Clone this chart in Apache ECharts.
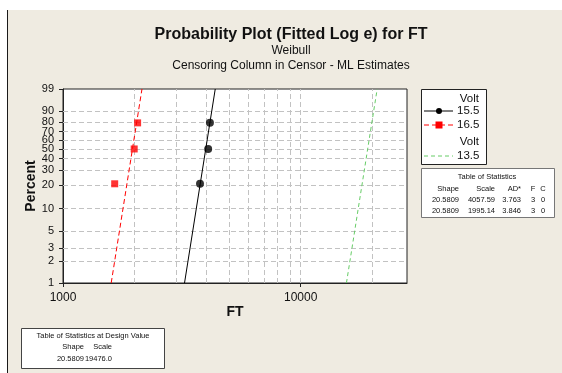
<!DOCTYPE html>
<html>
<head>
<meta charset="utf-8">
<script src="https://cdn.jsdelivr.net/npm/echarts@6/dist/echarts.min.js"></script>
<style>
html,body{margin:0;padding:0;background:#fff;}
#wrap{position:relative;width:562px;height:373px;overflow:hidden;background:#fff;}
#panel{position:absolute;left:8px;top:10px;width:554px;height:363px;background:#EFEBE1;}
#edge{position:absolute;left:7px;top:10px;width:1px;height:363px;background:#1a1a1a;}
#chart{position:absolute;left:0;top:0;width:562px;height:373px;}
</style>
</head>
<body>
<div id="wrap"><div id="panel"></div><div id="edge"></div><div id="chart"></div></div>
<script>
// ---- data ----
const voltLevels = ['15.5', '16.5', '13.5'];
const ft155 = [3770, 4080, 4150];
const pct155 = [20.6, 50.0, 79.4];
const ft165 = [1650, 1993, 2060];
const pct165 = [20.6, 50.0, 79.4];
const fitPct = [1, 99];
const fit155 = [3245, 4370];
const fit165 = [1595, 2149];
const fit135 = [15575, 20975];
const yTickPct = [1, 2, 3, 5, 10, 20, 30, 40, 50, 60, 70, 80, 90, 99];
const yGridPct = [2, 3, 5, 10, 20, 30, 40, 50, 60, 70, 80, 90];
const xTickVals = [1000, 10000];
const xGridVals = [2000, 3000, 4000, 5000, 6000, 7000, 8000, 9000, 10000, 20000];
const statsHeader = ['Shape', 'Scale', 'AD*', 'F', 'C'];
const statsRow155 = ['20.5809', '4057.59', '3.763', '3', '0'];
const statsRow165 = ['20.5809', '1995.14', '3.846', '3', '0'];
const designHeader = ['Shape', 'Scale'];
const designRow = ['20.5809', '19476.0'];

// Weibull probability scale transform
function wb(p) { return Math.log(-Math.log(1 - p / 100)); }
function inv(v) { return 100 * (1 - Math.exp(-Math.exp(v))); }

const FONT = 'Liberation Sans';
const chart = echarts.init(document.getElementById('chart'), null, {renderer: 'canvas'});

const gridLeft = 63, gridTop = 89, gridW = 344, gridH = 194;

function pts(xs, ps) { return xs.map((x, i) => [x, wb(ps[i])]); }

const gridLines = xGridVals.map(v => ({xAxis: v})).concat(yGridPct.map(p => ({yAxis: wb(p)})));

const graphics = [];
function txt(x, y, s, opts) {
  graphics.push({type: 'text', x: x, y: y, z: 11,
    style: Object.assign({text: s, font: '11.5px "' + FONT + '"', fill: '#111', textVerticalAlign: 'middle'}, opts || {})});
}
// Legend box
graphics.push({type: 'rect', shape: {x: 421.5, y: 89.5, width: 65, height: 75}, style: {fill: '#fff', stroke: '#222', lineWidth: 1}, z: 10});
txt(479, 99, 'Volt', {textAlign: 'right'});
graphics.push({type: 'line', z: 11, shape: {x1: 424, y1: 111, x2: 453, y2: 111}, style: {stroke: '#000', lineWidth: 1}});
graphics.push({type: 'circle', z: 11, shape: {cx: 439, cy: 111, r: 3}, style: {fill: '#000'}});
txt(457, 111, voltLevels[0]);
graphics.push({type: 'line', z: 11, shape: {x1: 424, y1: 125, x2: 453, y2: 125}, style: {stroke: '#ff0000', lineWidth: 1, lineDash: [5, 3]}});
graphics.push({type: 'rect', z: 11, shape: {x: 435.5, y: 121.5, width: 7, height: 7}, style: {fill: '#ff0000'}});
txt(457, 125, voltLevels[1]);
txt(479, 142, 'Volt', {textAlign: 'right'});
graphics.push({type: 'line', z: 11, shape: {x1: 424, y1: 156, x2: 453, y2: 156}, style: {stroke: '#66cc66', lineWidth: 1, lineDash: [4, 3]}});
txt(457, 156, voltLevels[2]);

// Stats table
const sf = '7.5px "' + FONT + '"';
graphics.push({type: 'rect', shape: {x: 421.5, y: 168.5, width: 133, height: 49}, style: {fill: '#fff', stroke: '#777', lineWidth: 1}, z: 10});
txt(487, 177, 'Table of Statistics', {textAlign: 'center', font: sf});
const colX = [459, 495, 521, 533, 543];
const colAlign = ['right', 'right', 'right', 'center', 'center'];
[statsHeader, statsRow155, statsRow165].forEach((row, r) => {
  row.forEach((s, c) => txt(colX[c], 189 + r * 11, s, {textAlign: colAlign[c], font: sf}));
});

// Design value table
graphics.push({type: 'rect', shape: {x: 21.5, y: 328.5, width: 143, height: 40}, style: {fill: '#fff', stroke: '#444', lineWidth: 1}, z: 10});
txt(93, 336, 'Table of Statistics at Design Value', {textAlign: 'center', font: sf});
const dColX = [84, 112];
[designHeader, designRow].forEach((row, r) => {
  row.forEach((s, c) => txt(dColX[c], 347 + r * 12, s, {textAlign: 'right', font: sf}));
});

const option = {
  animation: false,
  backgroundColor: 'transparent',
  title: [
    {text: 'Probability Plot (Fitted Log e) for FT', left: 286, textAlign: 'center', top: 22,
     textStyle: {fontFamily: FONT, fontWeight: 'bold', fontSize: 16, color: '#111'}},
    {text: 'Weibull', left: 286, textAlign: 'center', top: 40,
     textStyle: {fontFamily: FONT, fontWeight: 'normal', fontSize: 12, color: '#111'}},
    {text: 'Censoring Column in Censor - ML Estimates', left: 286, textAlign: 'center', top: 55,
     textStyle: {fontFamily: FONT, fontWeight: 'normal', fontSize: 12, color: '#111'}}
  ],
  grid: {left: gridLeft, top: gridTop, width: gridW, height: gridH, show: true,
         backgroundColor: '#fff', borderColor: '#222', borderWidth: 1},
  xAxis: {
    type: 'log', logBase: 10, min: 1000, max: 28000,
    name: 'FT', nameLocation: 'middle', nameGap: 22, nameMoveOverlap: false,
    nameTextStyle: {fontFamily: FONT, fontWeight: 'bold', fontSize: 14, color: '#111'},
    axisLine: {onZero: false, lineStyle: {color: '#222'}},
    axisTick: {show: true, length: 4, lineStyle: {color: '#222'}, customValues: xTickVals},
    axisLabel: {customValues: xTickVals, fontFamily: FONT, fontSize: 12, color: '#111', margin: 9,
                formatter: v => String(Math.round(v))},
    splitLine: {show: false}, minorTick: {show: false}
  },
  yAxis: {
    type: 'value', min: wb(1), max: wb(99),
    name: 'Percent', nameLocation: 'middle', nameGap: 25, nameRotate: 90, nameMoveOverlap: false,
    nameTextStyle: {fontFamily: FONT, fontWeight: 'bold', fontSize: 14, color: '#111'},
    axisLine: {show: true, onZero: false, lineStyle: {color: '#222'}},
    axisTick: {show: true, length: 4, lineStyle: {color: '#222'}, customValues: yTickPct.map(wb)},
    axisLabel: {customValues: yTickPct.map(wb), fontFamily: FONT, fontSize: 11, color: '#111', margin: 9,
                formatter: v => String(Math.round(inv(v)))},
    splitLine: {show: false}
  },
  series: [
    {name: voltLevels[2], type: 'line', z: 5, symbol: 'none', data: pts(fit135, fitPct),
     lineStyle: {color: '#66cc66', width: 1, type: [4, 3]},
     markLine: {z: 1, silent: true, symbol: 'none', label: {show: false}, animation: false,
                lineStyle: {color: '#c2c2c2', width: 1, type: [5, 3]}, data: gridLines}},
    {name: voltLevels[1] + ' fit', type: 'line', z: 5, symbol: 'none', data: pts(fit165, fitPct),
     lineStyle: {color: '#ff0000', width: 1, type: [5, 3]}},
    {name: voltLevels[0] + ' fit', type: 'line', z: 5, symbol: 'none', data: pts(fit155, fitPct),
     lineStyle: {color: '#000', width: 1}},
    {name: voltLevels[1], type: 'scatter', z: 10, symbol: 'rect', symbolSize: 7, data: pts(ft165, pct165),
     itemStyle: {color: '#ff0000', borderWidth: 0}},
    {name: voltLevels[0], type: 'scatter', z: 10, symbol: 'circle', symbolSize: 8, data: pts(ft155, pct155),
     itemStyle: {color: '#000', borderWidth: 0}}
  ],
  graphic: graphics
};
chart.setOption(option);
</script>
</body>
</html>
